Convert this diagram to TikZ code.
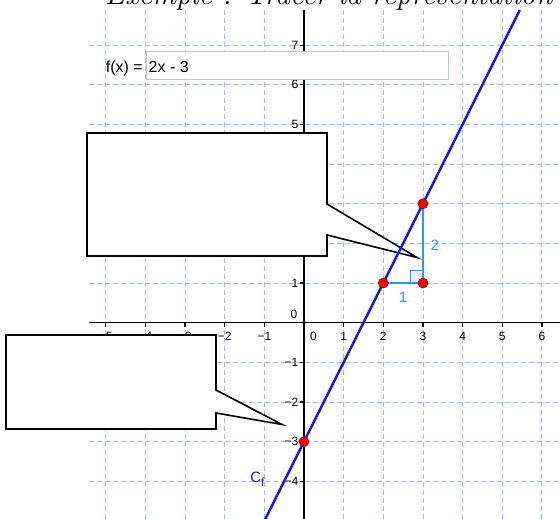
\documentclass[tikz,border=0pt]{standalone}
\usepackage{fontspec}
\setsansfont{Liberation Sans}
\definecolor{gridblue}{RGB}{160,190,255}
\definecolor{fblue}{RGB}{20,20,240}
\definecolor{triblue}{RGB}{40,150,255}
\definecolor{darkred}{RGB}{150,0,0}
\definecolor{boxgray}{RGB}{200,200,200}
\begin{document}
\begin{tikzpicture}[x=1pt,y=-1pt,
  gridline/.style={draw=gridblue, dash pattern=on 5pt off 3pt, line width=0.9pt},
  axisline/.style={draw=black, line width=1.2pt},
  axlbl/.style={font=\sffamily\fontsize{12}{12}\selectfont, inner sep=0pt},
  calloutbox/.style={draw=black, line width=1.6pt, fill=white, line join=miter},
  fline/.style={draw=fblue, line width=2.5pt},
  tri/.style={draw=triblue, line width=1.8pt},
  trilbl/.style={font=\sffamily\fontsize{15}{15}\selectfont, text=triblue, inner sep=0pt},
  redpt/.style={circle, fill=red, draw=darkred, line width=0.6pt, inner sep=0pt, minimum size=10pt},
  boxtxt/.style={font=\sffamily\fontsize{16}{16}\selectfont, inner sep=0pt}
]
\useasboundingbox (0,0) rectangle (560,519);

% partially visible title
\node[anchor=base west, inner sep=0pt, font=\itshape\fontsize{30}{30}\selectfont] (title) at (105,5) {Exemple : Tracer la représentation};

\begin{scope}[shift={(304pt,-322.7pt)}, x=39.65pt, y=39.65pt]
  % grid
  \foreach \i in {-5,...,6} \draw[gridline] (\i,7.887) -- (\i,-4.97);
  \foreach \j in {-4,...,7} \draw[gridline] (-5.42,\j) -- (6.46,\j);
  % axes
  \coordinate (xl) at (-5.42,0);
  \coordinate (xr) at (6.46,0);
  \coordinate (yt) at (0,7.887);
  \coordinate (yb) at (0,-4.97);
  \draw[axisline] (xl) -- (xr);
  \draw[axisline] (yt) -- (yb);
  \foreach \i in {-5,...,-1,1,2,...,6} \draw[axisline] (\i,0) -- ++(0,-4pt);
  \foreach \j in {-4,...,-1,1,2,...,7} \draw[axisline] (0,\j) -- ++(-4pt,0);
  % x labels
  \foreach \i/\t in {-5/−5,-4/−4,-3/−3,-2/−2,-1/−1,1/1,2/2,3/3,4/4,5/5,6/6}
    \node[axlbl] (xt\i) at ([yshift=-13.8pt]\i,0) {\t};
  \node[axlbl] (xt0) at ([xshift=9.5pt,yshift=-13.8pt]0,0) {0};
  % y labels
  \foreach \j/\t in {-4/−4,-3/−3,-2/−2,-1/−1,1/1,2/2,3/3,4/4,5/5,6/6,7/7}
    \node[axlbl, anchor=east] (yt\j) at ([xshift=-5.5pt]0,\j) {\t};
  \node[axlbl, anchor=east] (yt0) at ([xshift=-6.5pt,yshift=8.2pt]0,0) {0};
\end{scope}

% callouts
\draw[calloutbox] (87,133) -- (327,133) -- (327,204) -- (417,257.5) -- (327,235) -- (327,256) -- (87,256) -- cycle;
\draw[calloutbox] (6,335) -- (216,335) -- (216,390) -- (282,424.5) -- (216,413) -- (216,429) -- (6,429) -- cycle;

\begin{scope}[shift={(304pt,-322.7pt)}, x=39.65pt, y=39.65pt]
  % function line
  \coordinate (fbot) at (-1.0,-5.0);
  \coordinate (ftop) at (5.4435,7.887);
  \draw[fline] (fbot) -- (ftop);
  % slope triangle
  \coordinate (a) at (2,1);
  \coordinate (b) at (3,1);
  \coordinate (c) at (3,3);
  \draw[triblue, line width=1pt, fill=triblue!12] (b) rectangle ++(-0.315,0.315);
  \draw[tri] (a) -- (b) -- (c);
  \node[trilbl] (one) at (2.5,0.647) {1};
  \node[trilbl] (two) at (3.3,1.96) {2};
  % points
  \node[redpt] (A) at (a) {};
  \node[redpt] (B) at (b) {};
  \node[redpt] (C) at (c) {};
  \node[redpt] (D) at (0,-3) {};
  % curve label
  \node[anchor=base west, inner sep=0pt, text=fblue, font=\sffamily\fontsize{15}{15}\selectfont] (cf) at (-1.36,-4.035) {C\raisebox{-4pt}{\fontsize{12}{12}\selectfont f}};
\end{scope}

% input box
\node[draw=boxgray, line width=1pt, fill=white, minimum width=302pt, minimum height=28pt, inner sep=0pt, anchor=north west] (inbox) at (146,51) {};
\node[boxtxt, anchor=base west] (expr) at (148.5,72.7) {2x - 3};
\node[boxtxt, anchor=base east] (fx) at (143,72.7) {f(x) =};
\end{tikzpicture}
\end{document}
